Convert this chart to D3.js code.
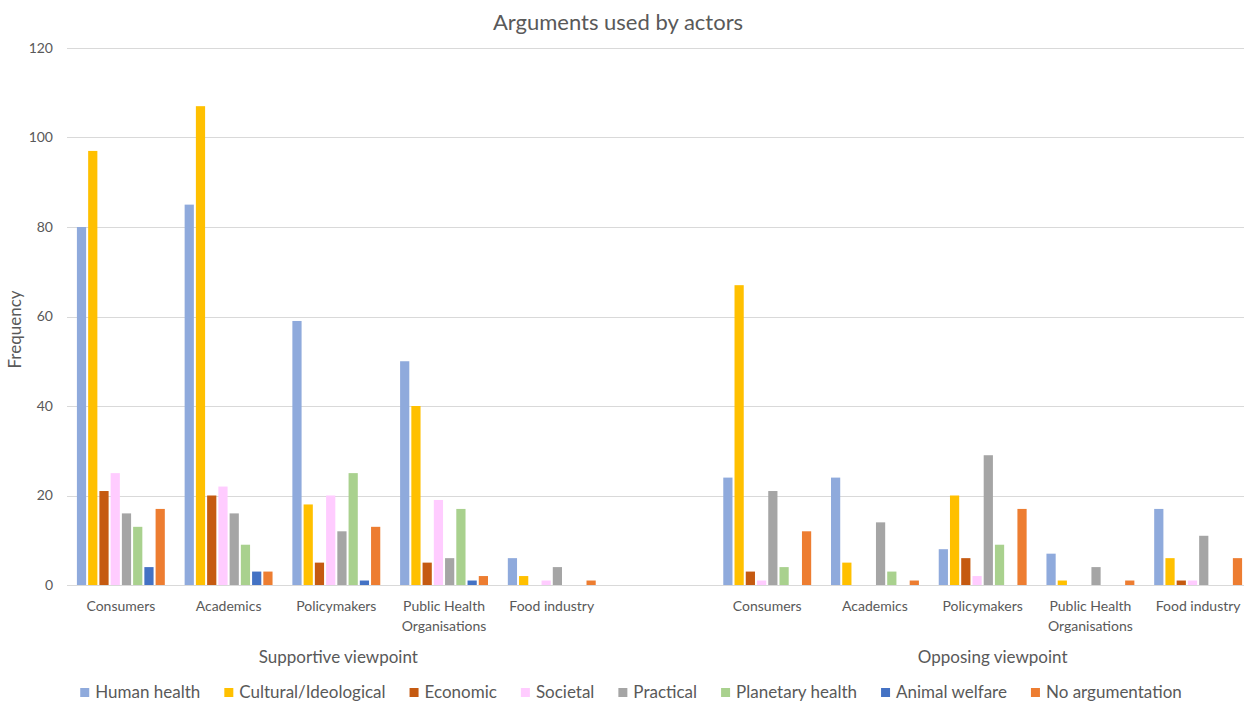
<!DOCTYPE html>
<html>
<head>
<meta charset="utf-8">
<script src="https://cdn.jsdelivr.net/npm/d3@7"></script>
<style>
  html, body { margin: 0; padding: 0; background: #fff; overflow: hidden; }
  svg { display: block; font-family: Lato, "Open Sans", sans-serif; }
</style>
</head>
<body>
<svg id="chart" width="1244" height="701"></svg>
<script>
// ---- data ----
const groups = ["Supportive viewpoint", "Opposing viewpoint"];
const actors = ["Consumers", "Academics", "Policymakers", "Public Health Organisations", "Food industry"];
const series = ["Human health", "Cultural/Ideological", "Economic", "Societal", "Practical", "Planetary health", "Animal welfare", "No argumentation"];
const colors = ["#8FAADC", "#FFC000", "#C55A11", "#FFCCFF", "#A5A5A5", "#A9D18E", "#4472C4", "#ED7D31"];

// values per actor, in series order
const supportive = [
  [80, 97, 21, 25, 16, 13, 4, 17],   // Consumers
  [85, 107, 20, 22, 16, 9, 3, 3],    // Academics
  [59, 18, 5, 20, 12, 25, 1, 13],    // Policymakers
  [50, 40, 5, 19, 6, 17, 1, 2],      // Public Health Organisations
  [6, 2, 0, 1, 4, 0, 0, 1]           // Food industry
];
const opposing = [
  [24, 67, 3, 1, 21, 4, 0, 12],      // Consumers
  [24, 5, 0, 0, 14, 3, 0, 1],        // Academics
  [8, 20, 6, 2, 29, 9, 0, 17],       // Policymakers
  [7, 1, 0, 0, 4, 0, 0, 1],          // Public Health Organisations
  [17, 6, 1, 1, 11, 0, 0, 6]         // Food industry
];
const yTicks = [0, 20, 40, 60, 80, 100, 120];
const title = "Arguments used by actors";
const yTitle = "Frequency";

// ---- build slots: 5 supportive, 1 empty spacer, 5 opposing ----
const slots = [];
actors.forEach((a, i) => slots.push({ key: "S" + i, group: 0, actor: a, values: supportive[i] }));
slots.push({ key: "gap", group: -1, actor: "", values: [] });
actors.forEach((a, i) => slots.push({ key: "O" + i, group: 1, actor: a, values: opposing[i] }));

const svg = d3.select("#chart");
const W = 1244, H = 701;
// plot area (extends slightly past the right edge of the picture, as in the reference crop)
const x0 = 67, x1 = 1252, yTop = 48, yBot = 585;

const x = d3.scaleBand().domain(slots.map(d => d.key)).range([x0, x1]).paddingInner(0).paddingOuter(0);
const bw = x.bandwidth();
const xs = d3.scaleBand().domain(series).range([bw * 0.092, bw * 0.908]).paddingInner(0.18).paddingOuter(0);
const y = d3.scaleLinear().domain([0, 120]).range([yBot, yTop]);

const textCol = "#595959";

// gridlines
svg.append("g").selectAll("line").data(yTicks).join("line")
  .attr("x1", x0).attr("x2", x1)
  .attr("y1", d => Math.round(y(d)) + 0.5).attr("y2", d => Math.round(y(d)) + 0.5)
  .attr("stroke", "#D9D9D9").attr("stroke-width", 1);

// y tick labels
svg.append("g").selectAll("text").data(yTicks).join("text")
  .attr("x", 53).attr("y", d => y(d))
  .attr("dy", "0.35em").attr("text-anchor", "end")
  .attr("font-size", 14).attr("fill", textCol)
  .text(d => d);

// bars
const slotG = svg.append("g").selectAll("g").data(slots).join("g")
  .attr("transform", d => `translate(${x(d.key)},0)`);
slotG.selectAll("rect").data(d => d.values.map((v, i) => ({ v, s: series[i], c: colors[i] })))
  .join("rect")
  .attr("x", d => xs(d.s))
  .attr("width", xs.bandwidth())
  .attr("y", d => y(d.v))
  .attr("height", d => y(0) - y(d.v))
  .attr("fill", d => d.c);

// category labels
const labelG = svg.append("g").selectAll("text").data(slots.filter(d => d.group >= 0)).join("text")
  .attr("x", d => x(d.key) + bw / 2)
  .attr("y", 611)
  .attr("text-anchor", "middle")
  .attr("font-size", 14).attr("fill", textCol);
labelG.each(function(d) {
  const t = d3.select(this);
  if (d.actor === "Public Health Organisations") {
    t.append("tspan").attr("x", x(d.key) + bw / 2).attr("dy", 0).text("Public Health");
    t.append("tspan").attr("x", x(d.key) + bw / 2).attr("dy", 19.5).text("Organisations");
  } else {
    t.text(d.actor);
  }
});

// group labels
groups.forEach((g, gi) => {
  const ks = slots.filter(d => d.group === gi).map(d => x(d.key) + bw / 2);
  const cx = (d3.min(ks) + d3.max(ks)) / 2 + (gi === 0 ? 2 : 10);
  svg.append("text").attr("x", cx).attr("y", 663)
    .attr("text-anchor", "middle").attr("font-size", 17).attr("fill", textCol).text(g);
});

// title
svg.append("text").attr("x", 618).attr("y", 30)
  .attr("text-anchor", "middle").attr("font-size", 22).attr("fill", textCol).text(title);

// y axis title
svg.append("text").attr("transform", `translate(21,${(yTop + yBot) / 2 + 13}) rotate(-90)`)
  .attr("text-anchor", "middle").attr("font-size", 17).attr("fill", textCol).text(yTitle);

// legend
const leg = svg.append("g");
let cursor = 0;
series.forEach((s, i) => {
  const g = leg.append("g");
  g.append("rect").attr("x", 0).attr("y", -10).attr("width", 9).attr("height", 9).attr("fill", colors[i]);
  const t = g.append("text").attr("x", 15).attr("y", 0).attr("font-size", 17).attr("fill", textCol).text(s);
  const w = 15 + t.node().getComputedTextLength();
  g.attr("transform", `translate(${cursor},0)`);
  cursor += w + 24;
});
const legW = cursor - 24;
leg.attr("transform", `translate(${631 - legW / 2},698)`);
</script>
</body>
</html>
